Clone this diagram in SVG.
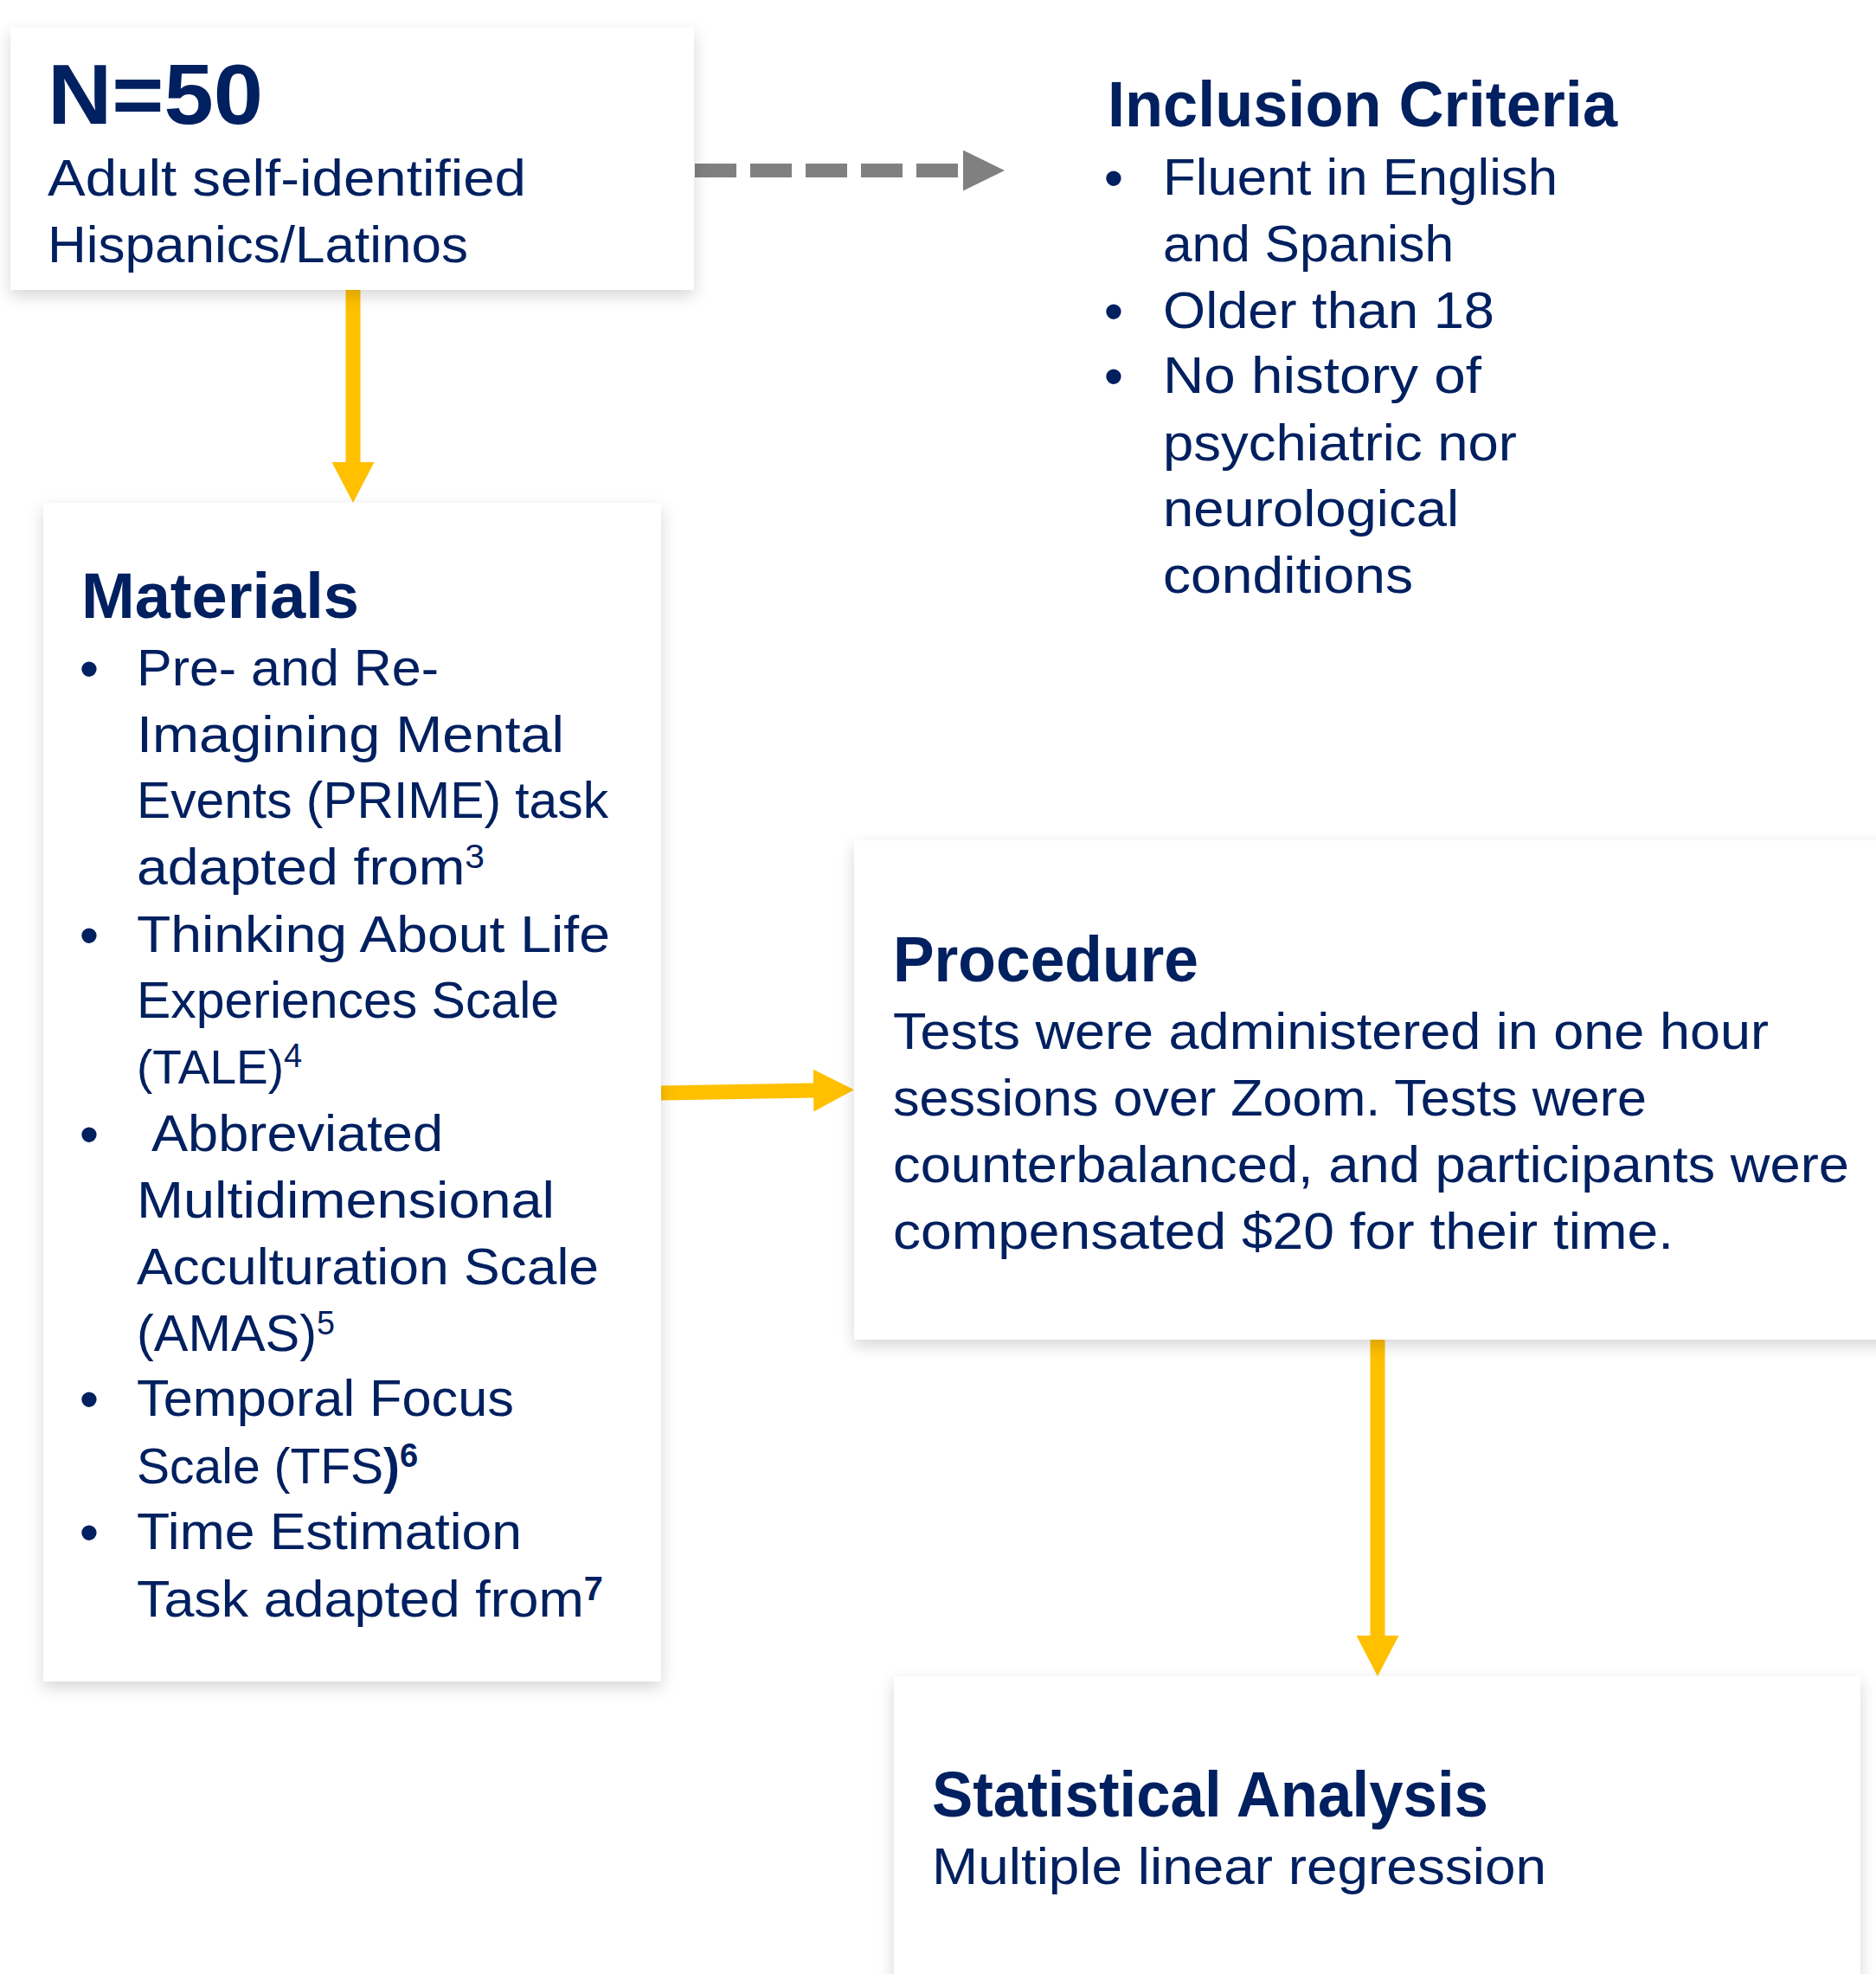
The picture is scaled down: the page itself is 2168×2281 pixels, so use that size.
<svg xmlns="http://www.w3.org/2000/svg" width="2168" height="2281" viewBox="0 0 2168 2281">
<style>
.box{fill:#ffffff;filter:url(#sh);}
.t{font-family:"Liberation Sans",Arial,sans-serif;fill:#002060;}
.h{font-weight:bold;font-size:74px;}
.b{font-size:60px;}
.bul{font-size:64px;}
.sup{font-size:38px;}
.bs{font-size:38px;font-weight:bold;}
.yl{stroke:#FFC000;stroke-width:17;fill:none;}
.gl{stroke:#808080;stroke-width:16;fill:none;stroke-dasharray:48 16;}
</style>
<defs>
<filter id="sh" x="-10%" y="-10%" width="120%" height="125%">
<feDropShadow dx="0" dy="7" stdDeviation="9" flood-color="#000000" flood-opacity="0.16"/>
</filter>
<marker id="ya" markerUnits="userSpaceOnUse" viewBox="0 0 47 49" refX="0" refY="24.5" markerWidth="47" markerHeight="49" orient="auto">
<path d="M0,0 L47,24.5 L0,49 Z" fill="#FFC000"/>
</marker>
<marker id="ga" markerUnits="userSpaceOnUse" viewBox="0 0 48 47" refX="0" refY="23.5" markerWidth="48" markerHeight="47" orient="auto">
<path d="M0,0 L48,23.5 L0,47 Z" fill="#808080"/>
</marker>
</defs>
<rect width="2168" height="2281" fill="#ffffff"/>

<g id="connectors">
<line class="gl" x1="803" y1="197" x2="1113" y2="197" marker-end="url(#ga)"/>
<line class="yl" x1="408" y1="335" x2="408" y2="534" marker-end="url(#ya)"/>
<line class="yl" x1="764" y1="1263" x2="940" y2="1260" marker-end="url(#ya)"/>
<line class="yl" x1="1592" y1="1548" x2="1592" y2="1890" marker-end="url(#ya)"/>
</g>

<g id="node-sample">
<rect class="box" x="12" y="32" width="790" height="303"/>
<text class="t" x="55" y="143" font-weight="bold" font-size="98" textLength="249" lengthAdjust="spacingAndGlyphs">N=50</text>
<text class="t b" x="55" y="226" textLength="553" lengthAdjust="spacingAndGlyphs">Adult self-identified</text>
<text class="t b" x="55" y="303" textLength="486" lengthAdjust="spacingAndGlyphs">Hispanics/Latinos</text>
</g>

<g id="node-inclusion">
<text class="t h" x="1280" y="146" textLength="589" lengthAdjust="spacingAndGlyphs">Inclusion Criteria</text>
<text class="t bul" x="1287" y="228" text-anchor="middle">•</text>
<text class="t b" x="1344" y="225" textLength="456" lengthAdjust="spacingAndGlyphs">Fluent in English</text>
<text class="t b" x="1344" y="302" textLength="336" lengthAdjust="spacingAndGlyphs">and Spanish</text>
<text class="t bul" x="1287" y="382" text-anchor="middle">•</text>
<text class="t b" x="1344" y="379" textLength="383" lengthAdjust="spacingAndGlyphs">Older than 18</text>
<text class="t bul" x="1287" y="457" text-anchor="middle">•</text>
<text class="t b" x="1344" y="454" textLength="368" lengthAdjust="spacingAndGlyphs">No history of</text>
<text class="t b" x="1344" y="532" textLength="409" lengthAdjust="spacingAndGlyphs">psychiatric nor</text>
<text class="t b" x="1344" y="608" textLength="342" lengthAdjust="spacingAndGlyphs">neurological</text>
<text class="t b" x="1344" y="685" textLength="289" lengthAdjust="spacingAndGlyphs">conditions</text>
</g>

<g id="node-materials">
<rect class="box" x="50" y="581" width="714" height="1362"/>
<text class="t h" x="94" y="714" textLength="321" lengthAdjust="spacingAndGlyphs">Materials</text>
<text class="t bul" x="103" y="795" text-anchor="middle">•</text>
<text class="t b" x="158" y="792" textLength="349" lengthAdjust="spacingAndGlyphs">Pre- and Re-</text>
<text class="t b" x="158" y="869" textLength="494" lengthAdjust="spacingAndGlyphs">Imagining Mental</text>
<text class="t b" x="158" y="945" textLength="545" lengthAdjust="spacingAndGlyphs">Events (PRIME) task</text>
<text class="t b" x="158" y="1022" textLength="402" lengthAdjust="spacingAndGlyphs">adapted from<tspan class="sup" dy="-19">3</tspan></text>
<text class="t bul" x="103" y="1103" text-anchor="middle">•</text>
<text class="t b" x="158" y="1100" textLength="547" lengthAdjust="spacingAndGlyphs">Thinking About Life</text>
<text class="t b" x="158" y="1176" textLength="488" lengthAdjust="spacingAndGlyphs">Experiences Scale</text>
<text class="t" x="158" y="1252" font-size="55">(TALE)<tspan class="sup" dy="-19">4</tspan></text>
<text class="t bul" x="103" y="1333" text-anchor="middle">•</text>
<text class="t b" x="175" y="1330" textLength="337" lengthAdjust="spacingAndGlyphs">Abbreviated</text>
<text class="t b" x="158" y="1407" textLength="483" lengthAdjust="spacingAndGlyphs">Multidimensional</text>
<text class="t b" x="158" y="1484" textLength="534" lengthAdjust="spacingAndGlyphs">Acculturation Scale</text>
<text class="t b" x="158" y="1561" textLength="229" lengthAdjust="spacingAndGlyphs">(AMAS)<tspan class="sup" dy="-19">5</tspan></text>
<text class="t bul" x="103" y="1639" text-anchor="middle">•</text>
<text class="t b" x="158" y="1636" textLength="436" lengthAdjust="spacingAndGlyphs">Temporal Focus</text>
<text class="t" x="158" y="1714" font-size="57">Scale (TFS<tspan font-weight="bold">)</tspan><tspan class="bs" dy="-19">6</tspan></text>
<text class="t bul" x="103" y="1793" text-anchor="middle">•</text>
<text class="t b" x="158" y="1790" textLength="445" lengthAdjust="spacingAndGlyphs">Time Estimation</text>
<text class="t b" x="158" y="1868" textLength="539" lengthAdjust="spacingAndGlyphs">Task adapted from<tspan class="bs" dy="-19">7</tspan></text>
</g>

<g id="node-procedure">
<rect class="box" x="987" y="971" width="1220" height="577"/>
<text class="t h" x="1032" y="1134" textLength="353" lengthAdjust="spacingAndGlyphs">Procedure</text>
<text class="t b" x="1032" y="1212" textLength="1012" lengthAdjust="spacingAndGlyphs">Tests were administered in one hour</text>
<text class="t b" x="1032" y="1289" textLength="871" lengthAdjust="spacingAndGlyphs">sessions over Zoom. Tests were</text>
<text class="t b" x="1032" y="1366" textLength="1105" lengthAdjust="spacingAndGlyphs">counterbalanced, and participants were</text>
<text class="t b" x="1032" y="1443" textLength="902" lengthAdjust="spacingAndGlyphs">compensated $20 for their time.</text>
</g>

<g id="node-analysis">
<rect class="box" x="1033" y="1937" width="1117" height="380"/>
<text class="t h" x="1077" y="2099" textLength="643" lengthAdjust="spacingAndGlyphs">Statistical Analysis</text>
<text class="t b" x="1077" y="2177" textLength="710" lengthAdjust="spacingAndGlyphs">Multiple linear regression</text>
</g>
</svg>
